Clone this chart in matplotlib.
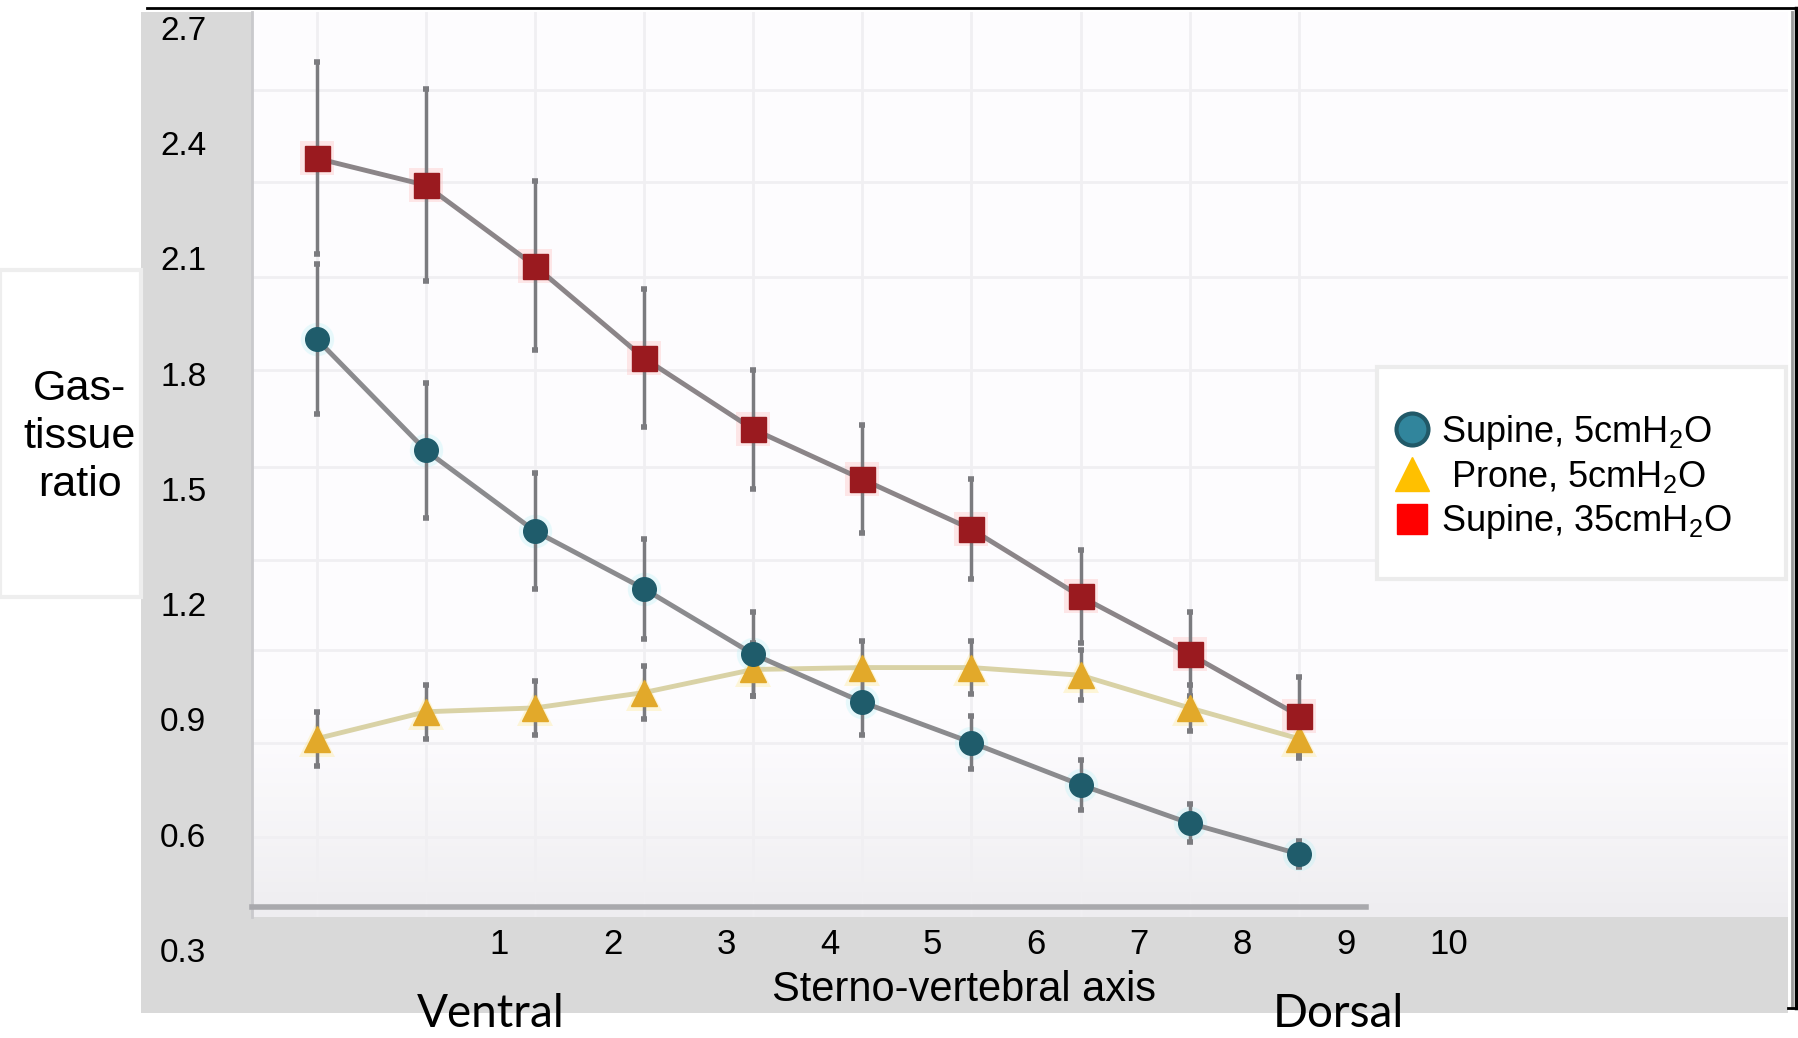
import numpy as np
import matplotlib.pyplot as plt
from matplotlib.lines import Line2D
from matplotlib.patches import Rectangle
from matplotlib.colors import LinearSegmentedColormap

plt.rcParams['font.family'] = ['Liberation Sans', 'DejaVu Sans']
plt.rcParams['mathtext.default'] = 'regular'

# lung levels along the sterno-vertebral axis (ventral -> dorsal)
levels = np.arange(1, 11)

supine_5 = [1.89, 1.60, 1.39, 1.24, 1.07, 0.945, 0.84, 0.73, 0.63, 0.55]
supine_5_err = [0.195, 0.175, 0.15, 0.13, 0.11, 0.085, 0.07, 0.065, 0.05, 0.035]
prone_5 = [0.85, 0.92, 0.93, 0.97, 1.03, 1.035, 1.035, 1.015, 0.93, 0.85]
prone_5_err = [0.07, 0.07, 0.07, 0.07, 0.07, 0.07, 0.07, 0.065, 0.06, 0.05]
supine_35 = [2.36, 2.29, 2.08, 1.84, 1.655, 1.525, 1.395, 1.22, 1.07, 0.91]
supine_35_err = [0.25, 0.25, 0.22, 0.18, 0.155, 0.14, 0.13, 0.12, 0.11, 0.10]

ytick_vals = [0.3, 0.6, 0.9, 1.2, 1.5, 1.8, 2.1, 2.4, 2.7]
xtick_labels = ['1', '2', '3', '4', '5', '6', '7', '8', '9', '10']
legend_labels = ['Supine, 5cmH$_2$O', ' Prone, 5cmH$_2$O', 'Supine, 35cmH$_2$O']

W, H = 1799, 1038
fig = plt.figure(figsize=(W / 100, H / 100), dpi=100)


def fx(px):
    return px / W


def fy(py):
    return 1 - py / H


# gray slide panel holding the overlaid axis labels
ax_bg = fig.add_axes([fx(141), fy(1013), fx(1788 - 141), (1013 - 11.5) / H])
ax_bg.set_facecolor('#d9d9d9')
for s in ax_bg.spines.values():
    s.set_visible(False)
ax_bg.set_xlim(0, 1)
ax_bg.set_ylim(0.136, 2.742)
ax_bg.set_yticks(ytick_vals)
ax_bg.set_yticklabels(['%.1f' % v for v in ytick_vals])
# label positions of the hand-placed x labels (fraction of panel width)
xtick_pos = [0.2174, 0.2864, 0.3553, 0.4180, 0.4807, 0.5434, 0.6061, 0.6688, 0.7315, 0.7942]
ax_bg.set_xticks(xtick_pos)
ax_bg.set_xticklabels(xtick_labels)
ax_bg.tick_params(axis='y', length=0, pad=-47, labelsize=24)
ax_bg.tick_params(axis='x', length=0, pad=-61, labelsize=25)

# the chart itself
ax = fig.add_axes([fx(252), fy(917), fx(1788 - 252), (917 - 11.5) / H])
ax.set_facecolor('#fdfcfe')
ax.set_xlim(0.407, 14.484)
ax.set_ylim(0.386, 2.742)

# soft shading towards the bottom of the chart
g = np.linspace(1, 0, 256).reshape(-1, 1)
g = np.clip((g - 0.78) / 0.22, 0, 1) ** 1.2
ax.imshow(g, extent=[0, 1, 0, 1], origin='lower', transform=ax.transAxes, aspect='auto',
          cmap=LinearSegmentedColormap.from_list('g', ['#fdfcfe', '#eeedf0']), zorder=0)

grid_vals = [0.594, 0.839, 1.081, 1.315, 1.557, 1.809, 2.051, 2.298, 2.538]
ax.set_yticks(grid_vals)
ax.set_xticks(levels)
ax.grid(color='#f0eff2', lw=2, zorder=0.5)
ax.tick_params(length=0, labelleft=False, labelbottom=False)
ax.set_axisbelow(True)
for s in ['top', 'right']:
    ax.spines[s].set_visible(False)
ax.spines['left'].set_color('#c9c9cc')
ax.spines['left'].set_linewidth(2)
ax.spines['bottom'].set_color('#a9a9ad')
ax.spines['bottom'].set_linewidth(4)
ax.spines['bottom'].set_position(('axes', 0.011))
ax.spines['bottom'].set_bounds(0.407, 10.62)

series = [
    (prone_5, prone_5_err, '^', '#e2a92a', '#ffe680', '#d9d2a6', 19),
    (supine_5, supine_5_err, 'o', '#1f5c6b', '#b5f2f7', '#8b8b8e', 17),
    (supine_35, supine_35_err, 's', '#9a1a1f', '#ffb5b5', '#8b8588', 18),
]
for vals, err, m, col, halo, lcol, ms in series:
    ax.plot(levels, vals, ls='none', marker=m, ms=ms + 7, color=halo, alpha=0.3,
            mew=0, zorder=2)
    ax.errorbar(levels, vals, yerr=err, fmt='-', color=lcol, lw=3.5, ecolor='#7b7b7f',
                elinewidth=2.5, capsize=2.5, capthick=4, zorder=3)
    ax.plot(levels, vals, ls='none', marker=m, ms=ms, mfc=col, mec=col, zorder=4)

# left label box
fig.add_artist(Rectangle((0, fy(597)), fx(141), 327 / H, transform=fig.transFigure,
                         facecolor='white', edgecolor='#eeeeee', lw=3))
fig.text(fx(80), fy(437), 'Gas-\ntissue\nratio', ha='center', va='center',
         fontsize=31, linespacing=1.25)

# legend box
fig.add_artist(Rectangle((fx(1377), fy(579)), fx(409), 212 / H, transform=fig.transFigure,
                         facecolor='white', edgecolor='#ececec', lw=3))
handles = [
    Line2D([], [], ls='none', marker='o', ms=23, mfc='#31859c', mec='#215968', mew=3),
    Line2D([], [], ls='none', marker='^', ms=24, mfc='#ffc000', mec='#ffc000'),
    Line2D([], [], ls='none', marker='s', ms=21, mfc='#ff0000', mec='#ff0000'),
]
fig.legend(handles, legend_labels, loc='center left', bbox_to_anchor=(fx(1390), fy(477)),
           frameon=False, fontsize=26, handletextpad=0.2, labelspacing=0.2,
           handlelength=1.2, borderpad=0, borderaxespad=0)

fig.text(fx(964), fy(990), 'Sterno-vertebral axis', ha='center', va='center', fontsize=30)
fig.text(fx(491), fy(1014), 'Ventral', ha='center', va='center', fontsize=33,
         family=['Lato', 'DejaVu Sans'])
fig.text(fx(1338), fy(1014), 'Dorsal', ha='center', va='center', fontsize=33,
         family=['Lato', 'DejaVu Sans'])

# slide frame
fig.add_artist(Line2D([fx(147), fx(1797)], [fy(8), fy(8)], color='black', lw=2,
                      transform=fig.transFigure))
fig.add_artist(Line2D([fx(1796), fx(1796)], [fy(8), fy(1008)], color='black', lw=2.5,
                      transform=fig.transFigure))
fig.add_artist(Line2D([fx(1792), fx(1792)], [fy(12), fy(1008)], color='#9a9a9a', lw=2,
                      transform=fig.transFigure))
fig.add_artist(Line2D([fx(1788), fx(1797)], [fy(1008), fy(1008)], color='black', lw=2,
                      transform=fig.transFigure))

fig.savefig('out.png', dpi=100)
